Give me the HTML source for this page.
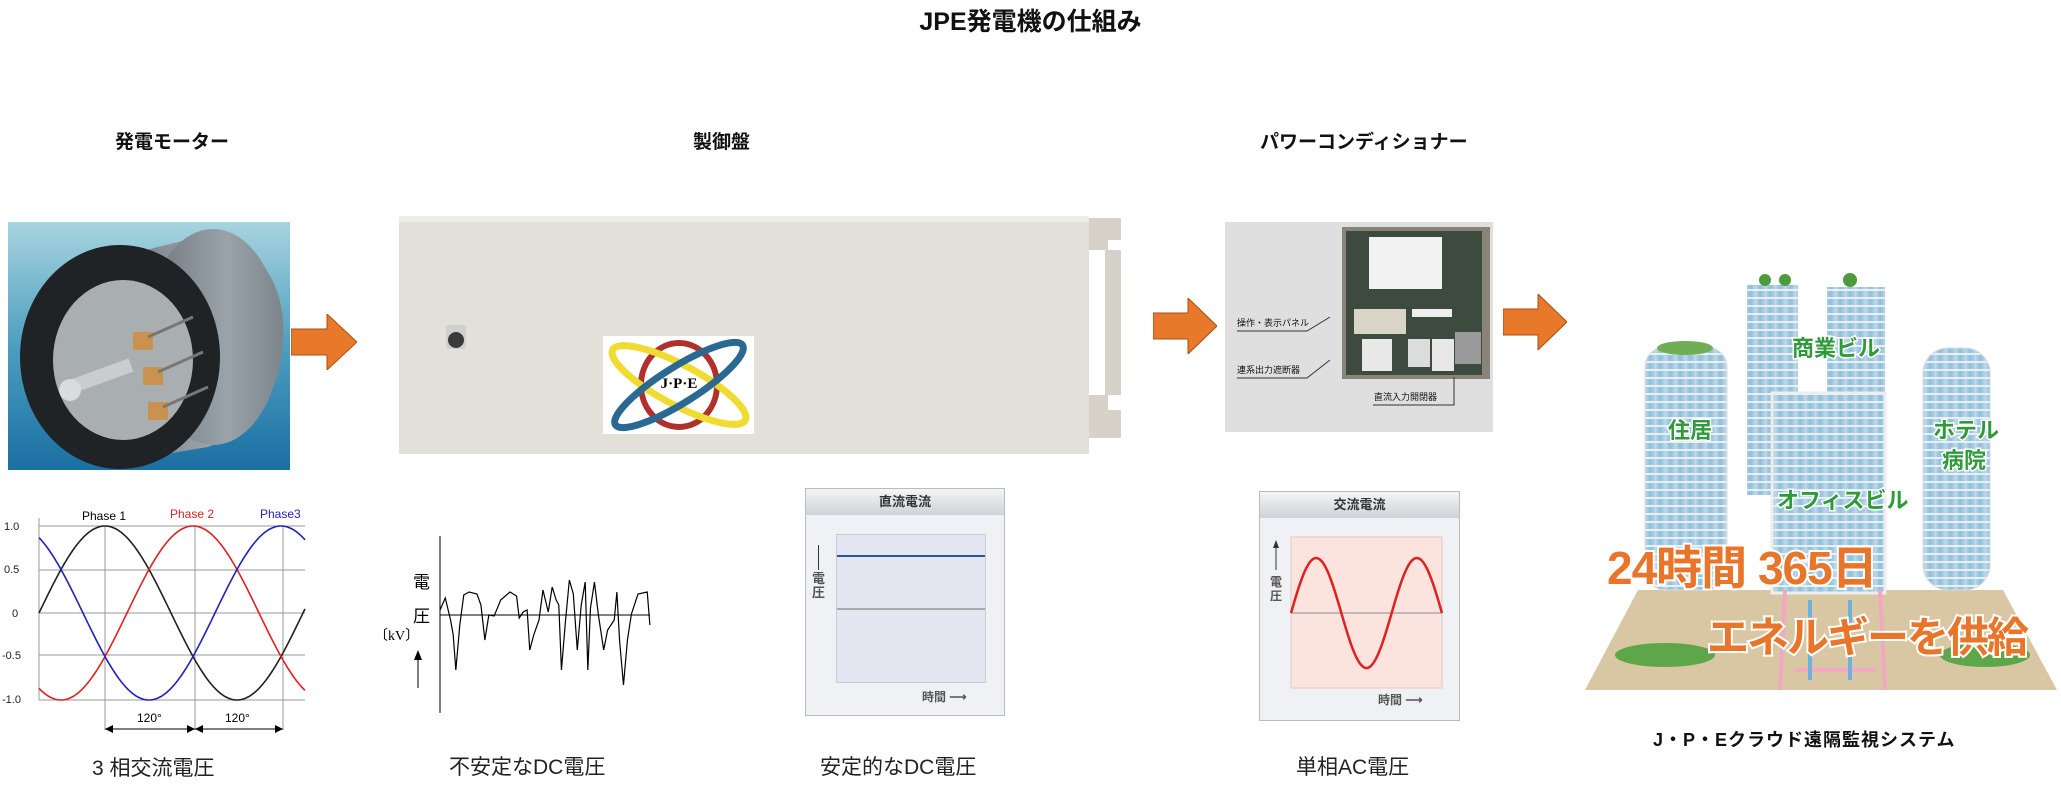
<!DOCTYPE html>
<html><head><meta charset="utf-8"><style>
*{margin:0;padding:0;box-sizing:border-box}
body{width:2061px;height:793px;background:#fff;position:relative;overflow:hidden;font-family:"Liberation Sans","Noto Sans CJK JP",sans-serif;color:#111}
.a{position:absolute;white-space:nowrap}
.h{font-weight:bold;font-size:19px}
.cap{font-size:21px;color:#222}
</style></head><body>
<div class="a" style="left:0;width:2061px;top:2px;text-align:center;font-weight:bold;font-size:25px">JPE発電機の仕組み</div>
<div class="a h" style="left:115px;top:127px">発電モーター</div>
<div class="a h" style="left:693px;top:127px">製御盤</div>
<div class="a h" style="left:1260px;top:127px">パワーコンディショナー</div>

<!-- motor -->
<svg class="a" style="left:8px;top:222px" width="282" height="248">
<defs><linearGradient id="mb" x1="0" y1="0" x2="0" y2="1"><stop offset="0" stop-color="#a8d4df"/><stop offset="0.5" stop-color="#4d9ec0"/><stop offset="1" stop-color="#1a6fa3"/></linearGradient>
<linearGradient id="dr" x1="0" y1="0" x2="1" y2="0"><stop offset="0" stop-color="#6b757c"/><stop offset="0.6" stop-color="#9aa3a9"/><stop offset="1" stop-color="#7c868c"/></linearGradient></defs>
<rect width="282" height="248" fill="url(#mb)"/>
<path d="M90 40 L210 10 Q280 40 275 120 Q270 200 200 225 L110 240 Z" fill="url(#dr)"/>
<ellipse cx="205" cy="115" rx="68" ry="108" fill="url(#dr)"/>
<ellipse cx="112" cy="135" rx="100" ry="112" fill="#1f2326"/>
<ellipse cx="115" cy="138" rx="70" ry="80" fill="#a9aeb1"/>
<rect x="55" y="148" width="70" height="14" fill="#c9cdd0" transform="rotate(-20 90 155)"/>
<circle cx="62" cy="168" r="11" fill="#d8dcde"/>
<rect x="125" y="110" width="20" height="18" fill="#c9934f"/><rect x="135" y="145" width="20" height="18" fill="#c9934f"/><rect x="140" y="180" width="20" height="18" fill="#c9934f"/>
<line x1="140" y1="115" x2="185" y2="95" stroke="#777" stroke-width="3"/><line x1="150" y1="150" x2="195" y2="130" stroke="#777" stroke-width="3"/><line x1="155" y1="185" x2="200" y2="165" stroke="#777" stroke-width="3"/>
</svg>

<!-- arrows -->
<svg class="a" style="left:291px;top:314px" width="66" height="56"><polygon points="0,15 36,15 36,0 66,28 36,56 36,41 0,41" fill="#e8792a" stroke="#a85010" stroke-width="1"/></svg>
<svg class="a" style="left:1153px;top:298px" width="64" height="56"><polygon points="0,15 35,15 35,0 64,28 35,56 35,41 0,41" fill="#e8792a" stroke="#a85010" stroke-width="1"/></svg>
<svg class="a" style="left:1503px;top:294px" width="64" height="56"><polygon points="0,15 35,15 35,0 64,28 35,56 35,41 0,41" fill="#e8792a" stroke="#a85010" stroke-width="1"/></svg>

<!-- control box -->
<svg class="a" style="left:396px;top:210px" width="730" height="250">
<rect x="3" y="6" width="690" height="238" fill="#e3e0d9"/>
<rect x="3" y="6" width="690" height="6" fill="#eeece7"/>
<path d="M693 8 L725 8 L725 30 L712 30 L712 40 L725 40 L725 185 L712 185 L712 200 L725 200 L725 228 L693 228 Z" fill="#d6d2c9"/>
<rect x="693" y="40" width="16" height="145" fill="#fff"/>
<rect x="50" y="115" width="20" height="24" rx="3" fill="#cfcfcf"/><circle cx="60" cy="130" r="8" fill="#3a3a3a"/>
</svg>
<!-- logo -->
<svg class="a" style="left:603px;top:336px" width="151" height="98">
<rect width="151" height="98" fill="#fff"/>
<ellipse cx="76" cy="49" rx="38" ry="42" fill="none" stroke="#b0312c" stroke-width="6"/>
<ellipse cx="76" cy="49" rx="75" ry="20" fill="none" stroke="#f0dc30" stroke-width="7" transform="rotate(28 76 49)"/>
<ellipse cx="76" cy="49" rx="75" ry="18" fill="none" stroke="#2a6a92" stroke-width="7" transform="rotate(-32 76 49)"/>
<text x="76" y="52" text-anchor="middle" font-family="Liberation Serif" font-weight="bold" font-size="15">J·P·E</text>
</svg>

<!-- power conditioner -->
<div class="a" style="left:1225px;top:222px;width:268px;height:210px;background:#dfdfdf"></div>
<svg class="a" style="left:1342px;top:227px" width="148" height="152">
<rect width="148" height="152" fill="#8a8478"/><rect x="4" y="4" width="136" height="144" fill="#3d4a3e"/>
<rect x="27" y="10" width="73" height="52" fill="#f2f2f2"/>
<rect x="12" y="82" width="52" height="25" fill="#d8d4c8"/>
<rect x="20" y="112" width="30" height="32" fill="#e8e8e8"/><rect x="66" y="112" width="22" height="28" fill="#dcdcdc"/>
<rect x="90" y="112" width="22" height="32" fill="#e8e8e8"/><rect x="113" y="105" width="26" height="32" fill="#9a9a9a"/>
<rect x="70" y="82" width="40" height="8" fill="#eee"/>
</svg>
<div class="a" style="left:1237px;top:316px;font-size:9px">操作・表示パネル</div>
<div class="a" style="left:1237px;top:363px;font-size:9px">連系出力遮断器</div>
<div class="a" style="left:1374px;top:390px;font-size:9px">直流入力開閉器</div>
<svg class="a" style="left:1225px;top:222px" width="270" height="210"><polyline points="12,109 82,109 105,95" fill="none" stroke="#333"/><polyline points="12,156 82,156 105,138" fill="none" stroke="#333"/><polyline points="148,183 229,183 229,155" fill="none" stroke="#333"/></svg>

<!-- city -->
<svg class="a" style="left:1585px;top:260px" width="476" height="440">
<defs><linearGradient id="bl" x1="0" y1="0" x2="1" y2="0"><stop offset="0" stop-color="#c5dbe9"/><stop offset="0.5" stop-color="#8fbedb"/><stop offset="1" stop-color="#b5d3e6"/></linearGradient>
<pattern id="st" width="10" height="8" patternUnits="userSpaceOnUse"><rect width="10" height="8" fill="url(#bl)"/><rect y="5" width="10" height="2" fill="#e5f0f7"/></pattern></defs>
<polygon points="53,330 418,330 472,430 0,430" fill="#d9c7a3"/>
<rect x="162" y="25" width="51" height="210" fill="url(#st)"/>
<rect x="242" y="27" width="58" height="125" fill="url(#st)"/>
<rect x="60" y="87" width="82" height="243" rx="20" fill="url(#st)" stroke="#ddd"/>
<rect x="338" y="88" width="67" height="242" rx="25" fill="url(#st)" stroke="#ddd"/>
<rect x="187" y="133" width="113" height="200" fill="url(#st)" stroke="#eee" stroke-width="3"/>
<ellipse cx="100" cy="88" rx="28" ry="7" fill="#6fae55"/>
<circle cx="180" cy="20" r="6" fill="#4d9c3c"/><circle cx="200" cy="20" r="6" fill="#4d9c3c"/><circle cx="265" cy="20" r="7" fill="#4d9c3c"/>
<ellipse cx="80" cy="395" rx="50" ry="12" fill="#5da64a"/><ellipse cx="400" cy="395" rx="45" ry="12" fill="#5da64a"/>
<path d="M200 330 L195 430 M295 330 L300 430 M210 410 L290 410" stroke="#f2a8c0" stroke-width="4" fill="none"/>
<path d="M225 340 L225 420 M265 340 L265 420" stroke="#6eb0e0" stroke-width="4" fill="none"/>
<g font-family="Liberation Sans,Noto Sans CJK JP,sans-serif" font-weight="bold" fill="#2f9a3a" stroke="#fff" stroke-width="3" paint-order="stroke">
<text x="207" y="96" font-size="22">商業ビル</text>
<text x="83" y="178" font-size="22">住居</text>
<text x="348" y="178" font-size="22">ホテル</text>
<text x="357" y="208" font-size="22">病院</text>
<text x="192" y="248" font-size="22">オフィスビル</text>
</g>
<g font-family="Liberation Sans,Noto Sans CJK JP,sans-serif" font-weight="bold" fill="#e8752a" stroke="#fff" stroke-width="4" paint-order="stroke">
<text x="22" y="324" font-size="46" letter-spacing="-1">24時間 365日</text>
<text x="122" y="392" font-size="42" letter-spacing="-2">エネルギーを供給</text>
</g>
</svg>
<div class="a" style="left:1653px;top:726px;font-size:18px;font-weight:bold;letter-spacing:1px">J・P・Eクラウド遠隔監視システム</div>

<!-- phase chart -->
<svg class="a" style="left:0;top:500px" width="312" height="240">
<g font-size="11" fill="#222"><text x="4" y="30">1.0</text><text x="4" y="73">0.5</text><text x="12" y="117">0</text><text x="2" y="159">-0.5</text><text x="2" y="203">-1.0</text></g>
<g stroke="#999" stroke-width="1"><line x1="39" y1="26" x2="305" y2="26"/><line x1="39" y1="70" x2="305" y2="70"/><line x1="39" y1="113" x2="305" y2="113"/><line x1="39" y1="155" x2="305" y2="155"/><line x1="39" y1="200" x2="305" y2="200"/>
<line x1="39" y1="18" x2="39" y2="200"/><line x1="105" y1="26" x2="105" y2="230"/><line x1="195" y1="26" x2="195" y2="230"/><line x1="283" y1="26" x2="283" y2="230"/></g>
<text x="82" y="20" font-size="12">Phase 1</text><text x="170" y="18" font-size="12" fill="#d22">Phase 2</text><text x="260" y="18" font-size="12" fill="#22b">Phase3</text>
<polyline id="p1" fill="none" stroke="#222" stroke-width="1.6"/><polyline id="p2" fill="none" stroke="#d22" stroke-width="1.6"/><polyline id="p3" fill="none" stroke="#22b" stroke-width="1.6"/>
<g stroke="#000"><line x1="105" y1="229" x2="195" y2="229"/><line x1="195" y1="229" x2="283" y2="229"/></g>
<polygon points="105,229 113,225 113,233"/><polygon points="195,229 187,225 187,233"/><polygon points="195,229 203,225 203,233"/><polygon points="283,229 275,225 275,233"/>
<text x="137" y="222" font-size="12">120°</text><text x="225" y="222" font-size="12">120°</text>
</svg>
<div class="a cap" style="left:92px;top:752px">3 相交流電圧</div>

<!-- unstable DC -->
<svg class="a" style="left:370px;top:530px" width="300" height="190">
<line x1="70" y1="6" x2="70" y2="183" stroke="#000"/>
<line x1="70" y1="85" x2="280" y2="85" stroke="#000"/>
<text x="43" y="58" font-size="17">電</text><text x="43" y="92" font-size="17">圧</text><text x="4" y="110" font-size="14" font-family="Liberation Serif">〔kV〕</text>
<line x1="48" y1="122" x2="48" y2="158" stroke="#000"/><polygon points="48,120 44,130 52,130"/>
<polyline transform="translate(70,0) scale(1.32,1) translate(-70,0)" vector-effect="non-scaling-stroke" fill="none" stroke="#000" stroke-width="1.2" points="70,80 74,68 78,90 80,105 82,140 85,95 88,65 92,62 98,64 101,75 104,110 107,85 111,86 116,70 123,62 128,66 130,88 133,82 136,80 138,120 141,105 145,90 148,60 152,82 155,57 158,70 160,75 162,140 165,92 168,50 171,64 174,120 177,75 180,52 182,140 184,78 187,52 190,85 194,120 197,100 202,90 204,62 206,110 209,155 212,110 215,84 220,64 227,62 229,95"/>
</svg>
<div class="a cap" style="left:449px;top:751px">不安定なDC電圧</div>

<!-- DC chart -->
<div class="a" style="left:805px;top:488px;width:200px;height:228px;border:1px solid #bbb;background:#f0f1f4"></div>
<div class="a" style="left:806px;top:489px;width:198px;height:26px;background:linear-gradient(#f4f5f6,#cdd3d6);text-align:center;font-size:13px;font-weight:bold;line-height:26px;color:#333">直流電流</div>
<div class="a" style="left:836px;top:534px;width:150px;height:149px;background:#e4e6f2;border:1px solid #c8cad8"></div>
<div class="a" style="left:837px;top:555px;width:148px;height:2px;background:#2a55a0"></div>
<div class="a" style="left:837px;top:608px;width:148px;height:2px;background:#aaa"></div>
<div class="a" style="left:818px;top:545px;width:1px;height:25px;background:#333"></div>
<div class="a" style="left:819px;top:572px;font-size:13px;font-weight:bold;color:#555;line-height:14px;width:14px;margin-left:-7px">電<br>圧</div>
<div class="a" style="left:922px;top:688px;font-size:12px;font-weight:bold;color:#555">時間 ⟶</div>
<div class="a cap" style="left:820px;top:751px">安定的なDC電圧</div>

<!-- AC chart -->
<div class="a" style="left:1259px;top:491px;width:201px;height:230px;border:1px solid #bbb;background:#f0f1f4"></div>
<div class="a" style="left:1260px;top:492px;width:199px;height:26px;background:linear-gradient(#f4f5f6,#cdd3d6);text-align:center;font-size:13px;font-weight:bold;line-height:26px;color:#333">交流電流</div>
<svg class="a" style="left:1260px;top:530px" width="200" height="190">
<rect x="31" y="7" width="151" height="151" fill="#fbe3de" stroke="#e6c8c2"/>
<line x1="31" y1="83" x2="182" y2="83" stroke="#aaa" stroke-width="1.5"/>
<polyline id="ac" fill="none" stroke="#d22" stroke-width="2.5"/>
<line x1="16" y1="12" x2="16" y2="40" stroke="#333"/><polygon points="16,10 13,18 19,18" fill="#333"/>
<text x="10" y="56" font-size="12" font-weight="bold" fill="#555">電</text><text x="10" y="70" font-size="12" font-weight="bold" fill="#555">圧</text>
<text x="118" y="174" font-size="12" font-weight="bold" fill="#555">時間 ⟶</text>
</svg>
<div class="a cap" style="left:1296px;top:751px">単相AC電圧</div>

<script>
function pts(x0,x1,f){var s=[];for(var x=x0;x<=x1;x+=1)s.push(x+","+f(x).toFixed(1));return s.join(" ");}
var P=264,A=87,c=113;
document.getElementById("p1").setAttribute("points",pts(39,305,function(x){return c-A*Math.sin(2*Math.PI*(x-39)/P)}));
document.getElementById("p2").setAttribute("points",pts(39,305,function(x){return c-A*Math.sin(2*Math.PI*(x-39-88)/P)}));
document.getElementById("p3").setAttribute("points",pts(39,305,function(x){return c-A*Math.sin(2*Math.PI*(x-39-176)/P)}));
document.getElementById("ac").setAttribute("points",pts(31,182,function(x){return 83-55*Math.sin(2*Math.PI*(x-31)/(151/1.5))}));
</script>
</body></html>
